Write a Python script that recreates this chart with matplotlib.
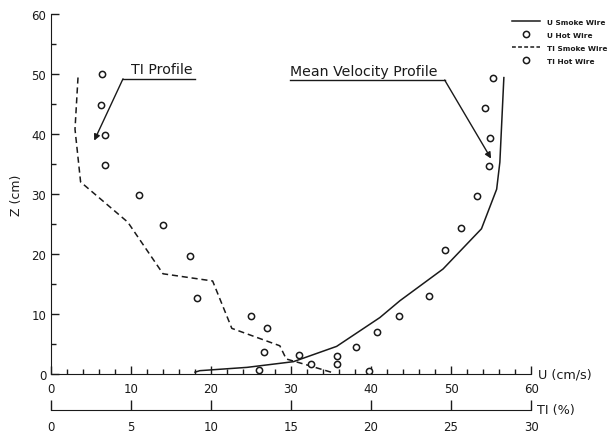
import matplotlib
matplotlib.use("Agg")
import matplotlib.pyplot as plt
from matplotlib.lines import Line2D

# U (cm/s) vs Z (cm), smoke wire (line) and hot wire (circles)
u_smoke_u = [18.0, 18.6, 24.5, 30.3, 35.7, 41.1, 43.6, 49.0, 53.8, 55.7, 56.1, 56.6]
u_smoke_z = [0.3, 0.55, 1.1, 2.05, 4.6, 9.4, 12.2, 17.5, 24.2, 30.8, 35.3, 49.4]

u_hot_u = [26.0, 39.7, 35.8, 35.8, 38.1, 40.8, 43.5, 47.2, 49.2, 51.2, 53.3, 54.75, 54.9, 54.25, 55.3]
u_hot_z = [0.7, 0.55, 1.6, 3.05, 4.55, 7.0, 9.6, 13.0, 20.6, 24.4, 29.6, 34.6, 39.4, 44.4, 49.4]

# TI (%) vs Z (cm)
ti_smoke_ti = [17.5, 16.0, 14.7, 14.3, 11.3, 10.1, 7.0, 4.8, 1.85, 1.5, 1.7]
ti_smoke_z = [0.3, 1.5, 2.5, 4.7, 7.6, 15.5, 16.7, 25.3, 32.0, 40.8, 50.0]

ti_hot_ti = [16.25, 15.5, 13.3, 13.5, 12.5, 9.1, 8.7, 7.0, 5.5, 3.4, 3.4, 3.1, 3.2]
ti_hot_z = [1.6, 3.2, 3.7, 7.7, 9.7, 12.6, 19.7, 24.8, 29.9, 34.9, 39.8, 44.9, 50.0]

legend_labels = ["U Smoke Wire", "U Hot Wire", "TI Smoke Wire", "TI Hot Wire"]

ink = "#1a1a1a"
plt.rcParams["font.family"] = ["DejaVu Sans"]

fig = plt.figure(figsize=(6.1, 4.35), dpi=100)
ax = fig.add_axes([0.0836, 0.138, 0.787, 0.8275])
ax_ti = ax.twiny()

ax.plot(u_smoke_u, u_smoke_z, color=ink, lw=1.1)
ax.plot(u_hot_u, u_hot_z, ls="none", marker="o", ms=4.5, mfc="white", mec=ink, mew=1.1)
ax_ti.plot(ti_smoke_ti, ti_smoke_z, color=ink, lw=1.1, ls=(0, (4, 2.5)))
ax_ti.plot(ti_hot_ti, ti_hot_z, ls="none", marker="o", ms=4.5, mfc="white", mec=ink, mew=1.1)

ax.set_xlim(0, 60)
ax.set_ylim(0, 60)
ax_ti.set_xlim(0, 30)

for a in (ax, ax_ti):
    for s in ("top", "right"):
        a.spines[s].set_visible(False)
ax_ti.spines["left"].set_visible(False)
ax.spines["left"].set_color(ink)
ax.spines["bottom"].set_color(ink)

ax.set_xticks(range(0, 61, 10))
ax.set_xticks(range(0, 61, 2), minor=True)
ax.set_yticks(range(0, 61, 10))
ax.set_yticks(range(0, 61, 5), minor=True)
ax.tick_params(axis="both", which="major", direction="in", length=6, width=1, color=ink,
               labelsize=8.5, labelcolor=ink)
ax.tick_params(axis="both", which="minor", direction="in", length=3.5, width=1, color=ink)
ax.tick_params(axis="x", pad=6)

ax_ti.xaxis.set_ticks_position("bottom")
ax_ti.xaxis.set_label_position("bottom")
ax_ti.spines["bottom"].set_visible(True)
ax_ti.spines["bottom"].set_position(("outward", 26))
ax_ti.spines["bottom"].set_color(ink)
ax_ti.set_xticks(range(0, 31, 5))
ax_ti.tick_params(axis="x", direction="in", length=7, width=1, color=ink,
                  labelsize=8.5, labelcolor=ink, pad=7)

ax.set_ylabel("Z (cm)", fontsize=9, color=ink, labelpad=6)
ax.text(1.015, 0.0, "U (cm/s)", transform=ax.transAxes, fontsize=9.2, color=ink,
        ha="left", va="center")
ax.annotate("TI (%)", xy=(1.0, 0.0), xycoords=ax.transAxes, xytext=(6, -36),
            textcoords="offset pixels", fontsize=9.2, color=ink, ha="left", va="center")

# profile annotations: underlined label with a leader arrow
ax.text(13.8, 49.6, "TI Profile", fontsize=10.2, color=ink, ha="center", va="bottom")
ax.plot([9.0, 18.0], [49.2, 49.2], color=ink, lw=1)
ax.annotate("", xy=(5.4, 38.9), xytext=(9.0, 49.2),
            arrowprops=dict(arrowstyle="-|>", color=ink, lw=1, mutation_scale=9,
                            shrinkA=0, shrinkB=0))

ax.text(39.1, 49.4, "Mean Velocity Profile", fontsize=10.2, color=ink, ha="center", va="bottom")
ax.plot([29.9, 49.2], [49.0, 49.0], color=ink, lw=1)
ax.annotate("", xy=(55.0, 35.9), xytext=(49.2, 49.0),
            arrowprops=dict(arrowstyle="-|>", color=ink, lw=1, mutation_scale=9,
                            shrinkA=0, shrinkB=0))

handles = [
    Line2D([], [], color=ink, lw=1.1),
    Line2D([], [], ls="none", marker="o", ms=4.5, mfc="white", mec=ink, mew=1.1),
    Line2D([], [], color=ink, lw=1.1, ls=(0, (2.5, 1.5))),
    Line2D([], [], ls="none", marker="o", ms=4.5, mfc="white", mec=ink, mew=1.1),
]
leg = fig.legend(handles, legend_labels, loc="upper left", bbox_to_anchor=(0.834, 0.962),
                 frameon=False, prop={"size": 5.3, "weight": "bold"}, handlelength=3.9,
                 handletextpad=0.9, labelspacing=0.95, borderaxespad=0)
for t in leg.get_texts():
    t.set_color(ink)

fig.savefig("out.png", dpi=100)
